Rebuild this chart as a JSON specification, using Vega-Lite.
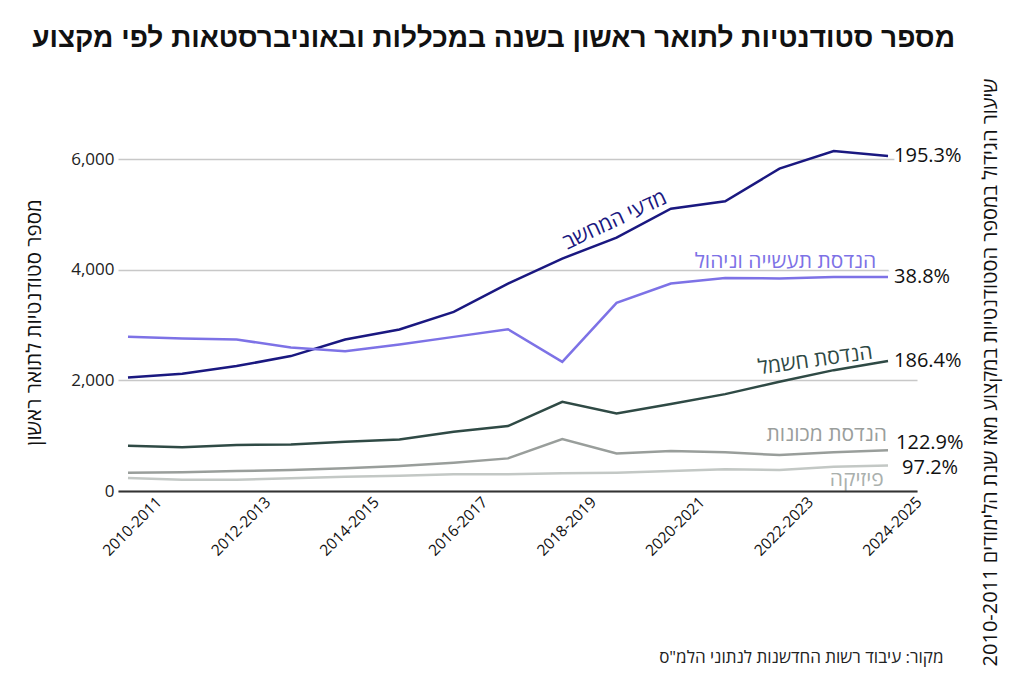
{
  "$schema": "https://vega.github.io/schema/vega-lite/v6.json",
  "width": 799,
  "height": 387,
  "autosize": {"type": "none"},
  "padding": {"left": 118, "top": 104, "right": 107, "bottom": 192},
  "background": "white",
  "config": {"view": {"stroke": null}, "font": "Open Sans"},
  "title": {
    "text": "מספר סטודנטיות לתואר ראשון בשנה במכללות ובאוניברסטאות לפי מקצוע",
    "anchor": "end",
    "frame": "group",
    "font": "Liberation Sans",
    "fontSize": 28,
    "fontWeight": "bold",
    "color": "#111111",
    "dx": 38,
    "offset": 25
  },
  "data": {
    "values": [
      {"series": "מדעי המחשב", "year": 2010, "value": 2052},
      {"series": "מדעי המחשב", "year": 2011, "value": 2120},
      {"series": "מדעי המחשב", "year": 2012, "value": 2260},
      {"series": "מדעי המחשב", "year": 2013, "value": 2440},
      {"series": "מדעי המחשב", "year": 2014, "value": 2740},
      {"series": "מדעי המחשב", "year": 2015, "value": 2921},
      {"series": "מדעי המחשב", "year": 2016, "value": 3240},
      {"series": "מדעי המחשב", "year": 2017, "value": 3752},
      {"series": "מדעי המחשב", "year": 2018, "value": 4204},
      {"series": "מדעי המחשב", "year": 2019, "value": 4583},
      {"series": "מדעי המחשב", "year": 2020, "value": 5107},
      {"series": "מדעי המחשב", "year": 2021, "value": 5240},
      {"series": "מדעי המחשב", "year": 2022, "value": 5830},
      {"series": "מדעי המחשב", "year": 2023, "value": 6148},
      {"series": "מדעי המחשב", "year": 2024, "value": 6060, "pct": "195.3%"},
      {"series": "הנדסת תעשייה וניהול", "year": 2010, "value": 2790},
      {"series": "הנדסת תעשייה וניהול", "year": 2011, "value": 2760},
      {"series": "הנדסת תעשייה וניהול", "year": 2012, "value": 2740},
      {"series": "הנדסת תעשייה וניהול", "year": 2013, "value": 2596},
      {"series": "הנדסת תעשייה וניהול", "year": 2014, "value": 2529},
      {"series": "הנדסת תעשייה וניהול", "year": 2015, "value": 2650},
      {"series": "הנדסת תעשייה וניהול", "year": 2016, "value": 2788},
      {"series": "הנדסת תעשייה וניהול", "year": 2017, "value": 2927},
      {"series": "הנדסת תעשייה וניהול", "year": 2018, "value": 2337},
      {"series": "הנדסת תעשייה וניהול", "year": 2019, "value": 3402},
      {"series": "הנדסת תעשייה וניהול", "year": 2020, "value": 3752},
      {"series": "הנדסת תעשייה וניהול", "year": 2021, "value": 3854},
      {"series": "הנדסת תעשייה וניהול", "year": 2022, "value": 3843},
      {"series": "הנדסת תעשייה וניהול", "year": 2023, "value": 3872},
      {"series": "הנדסת תעשייה וניהול", "year": 2024, "value": 3872, "pct": "38.8%"},
      {"series": "הנדסת חשמל", "year": 2010, "value": 820},
      {"series": "הנדסת חשמל", "year": 2011, "value": 790},
      {"series": "הנדסת חשמל", "year": 2012, "value": 831},
      {"series": "הנדסת חשמל", "year": 2013, "value": 843},
      {"series": "הנדסת חשמל", "year": 2014, "value": 891},
      {"series": "הנדסת חשמל", "year": 2015, "value": 933},
      {"series": "הנדסת חשמל", "year": 2016, "value": 1072},
      {"series": "הנדסת חשמל", "year": 2017, "value": 1174},
      {"series": "הנדסת חשמל", "year": 2018, "value": 1614},
      {"series": "הנדסת חשמל", "year": 2019, "value": 1403},
      {"series": "הנדסת חשמל", "year": 2020, "value": 1572},
      {"series": "הנדסת חשמל", "year": 2021, "value": 1752},
      {"series": "הנדסת חשמל", "year": 2022, "value": 1975},
      {"series": "הנדסת חשמל", "year": 2023, "value": 2186},
      {"series": "הנדסת חשמל", "year": 2024, "value": 2350, "pct": "186.4%"},
      {"series": "הנדסת מכונות", "year": 2010, "value": 330},
      {"series": "הנדסת מכונות", "year": 2011, "value": 340},
      {"series": "הנדסת מכונות", "year": 2012, "value": 361},
      {"series": "הנדסת מכונות", "year": 2013, "value": 379},
      {"series": "הנדסת מכונות", "year": 2014, "value": 410},
      {"series": "הנדסת מכונות", "year": 2015, "value": 452},
      {"series": "הנדסת מכונות", "year": 2016, "value": 512},
      {"series": "הנדסת מכונות", "year": 2017, "value": 590},
      {"series": "הנדסת מכונות", "year": 2018, "value": 939},
      {"series": "הנדסת מכונות", "year": 2019, "value": 680},
      {"series": "הנדסת מכונות", "year": 2020, "value": 723},
      {"series": "הנדסת מכונות", "year": 2021, "value": 699},
      {"series": "הנדסת מכונות", "year": 2022, "value": 650},
      {"series": "הנדסת מכונות", "year": 2023, "value": 699},
      {"series": "הנדסת מכונות", "year": 2024, "value": 736, "pct": "122.9%"},
      {"series": "פיזיקה", "year": 2010, "value": 235},
      {"series": "פיזיקה", "year": 2011, "value": 205},
      {"series": "פיזיקה", "year": 2012, "value": 205},
      {"series": "פיזיקה", "year": 2013, "value": 229},
      {"series": "פיזיקה", "year": 2014, "value": 259},
      {"series": "פיזיקה", "year": 2015, "value": 277},
      {"series": "פיזיקה", "year": 2016, "value": 301},
      {"series": "פיזיקה", "year": 2017, "value": 301},
      {"series": "פיזיקה", "year": 2018, "value": 320},
      {"series": "פיזיקה", "year": 2019, "value": 331},
      {"series": "פיזיקה", "year": 2020, "value": 361},
      {"series": "פיזיקה", "year": 2021, "value": 392},
      {"series": "פיזיקה", "year": 2022, "value": 379},
      {"series": "פיזיקה", "year": 2023, "value": 440},
      {"series": "פיזיקה", "year": 2024, "value": 463, "pct": "97.2%"}
    ]
  },
  "encoding": {
    "x": {
      "field": "year",
      "type": "quantitative",
      "scale": {"domain": [2009.816, 2024.534], "nice": false, "zero": false},
      "axis": {
        "values": [2010, 2012, 2014, 2016, 2018, 2020, 2022, 2024],
        "labelExpr": "datum.value + '-' + (datum.value + 1)",
        "labelAngle": -45,
        "labelAlign": "center",
        "labelBaseline": "middle",
        "labelPadding": 35,
        "labelOffset": 4,
        "labelFontSize": 15.5,
        "labelColor": "#111111",
        "ticks": false,
        "grid": false,
        "domainColor": "#333333",
        "domainWidth": 2,
        "zindex": 1,
        "title": "מקור: עיבוד רשות החדשנות לנתוני הלמ\"ס",
        "titleFontSize": 17,
        "titleFontWeight": "normal",
        "titleColor": "#222222",
        "titleX": 825,
        "titleY": 166,
        "titleAlign": "right",
        "titleBaseline": "middle"
      }
    }
  },
  "layer": [
    {
      "mark": {"type": "line"},
      "encoding": {
        "y": {
          "field": "value",
          "type": "quantitative",
          "scale": {"domain": [0, 7000], "nice": false},
          "axis": {
            "values": [0, 2000, 4000, 6000],
            "format": ",.0f",
            "grid": true,
            "gridColor": "#c8c8c8",
            "gridWidth": 1.5,
            "ticks": false,
            "domain": false,
            "labelFontSize": 17,
            "labelColor": "#222222",
            "labelPadding": 4,
            "title": "מספר סטודנטיות לתואר ראשון",
            "titleFontSize": 20.5,
            "titleFontWeight": "normal",
            "titleColor": "#111111",
            "titleAngle": -90,
            "titleX": -84,
            "titleY": 218,
            "titleAlign": "center",
            "titleBaseline": "middle"
          }
        },
        "color": {
          "field": "series",
          "type": "nominal",
          "scale": {
            "domain": ["פיזיקה", "הנדסת מכונות", "הנדסת חשמל", "הנדסת תעשייה וניהול", "מדעי המחשב"],
            "range": ["#c3c8c5", "#999e9b", "#2f4a45", "#7d72e6", "#1a1880"]
          },
          "legend": null
        },
        "strokeWidth": {
          "field": "series",
          "type": "nominal",
          "scale": {
            "domain": ["פיזיקה", "הנדסת מכונות", "הנדסת חשמל", "הנדסת תעשייה וניהול", "מדעי המחשב"],
            "range": [2.5, 2.5, 2.5, 2.5, 3]
          },
          "legend": null
        }
      }
    },
    {
      "transform": [{"filter": "datum.pct && datum.value > 3000"}],
      "mark": {"type": "text", "align": "left", "baseline": "middle", "dx": 5, "fontSize": 20, "stroke": "white", "strokeWidth": 8, "color": "white"},
      "encoding": {
        "y": {"field": "value", "type": "quantitative", "axis": null},
        "text": {"field": "pct"}
      }
    },
    {
      "transform": [{"filter": "datum.pct && datum.value > 1000"}],
      "mark": {"type": "text", "align": "left", "baseline": "middle", "dx": 6, "fontSize": 20, "color": "#111111"},
      "encoding": {
        "y": {
          "field": "value",
          "type": "quantitative",
          "axis": {
            "orient": "right",
            "labels": false,
            "ticks": false,
            "domain": false,
            "grid": false,
            "title": "שיעור הגידול במספר הסטודנטיות במקצוע מאז שנת הלימודים 2010-2011",
            "titleFontSize": 20,
            "titleFontWeight": "normal",
            "titleColor": "#111111",
            "titleAngle": -90,
            "titleX": 73,
            "titleY": 268,
            "titleAlign": "center",
            "titleBaseline": "middle"
          }
        },
        "text": {"field": "pct"}
      }
    },
    {
      "transform": [{"filter": "datum.pct && datum.series === 'הנדסת מכונות'"}],
      "mark": {"type": "text", "align": "left", "baseline": "middle", "dx": 8, "dy": -7, "fontSize": 20, "color": "#111111"},
      "encoding": {
        "y": {"field": "value", "type": "quantitative", "axis": null},
        "text": {"field": "pct"}
      }
    },
    {
      "transform": [{"filter": "datum.pct && datum.series === 'פיזיקה'"}],
      "mark": {"type": "text", "align": "left", "baseline": "middle", "dx": 14, "dy": 3, "fontSize": 20, "color": "#111111"},
      "encoding": {
        "y": {"field": "value", "type": "quantitative", "axis": null},
        "text": {"field": "pct"}
      }
    },
    {
      "transform": [{"filter": "datum.series === 'מדעי המחשב' && datum.year === 2019"}],
      "mark": {"type": "text", "align": "center", "baseline": "middle", "angle": -25, "dx": 6, "dy": -16, "fontSize": 21, "color": "#1a1880"},
      "encoding": {
        "y": {"field": "value", "type": "quantitative", "axis": null},
        "text": {"field": "series"}
      }
    },
    {
      "transform": [{"filter": "datum.series === 'הנדסת תעשייה וניהול' && datum.year === 2022"}],
      "mark": {"type": "text", "align": "center", "baseline": "middle", "dx": 6, "dy": -17, "fontSize": 21, "color": "#7d72e6"},
      "encoding": {
        "y": {"field": "value", "type": "quantitative", "axis": null},
        "text": {"field": "series"}
      }
    },
    {
      "transform": [{"filter": "datum.series === 'הנדסת חשמל' && datum.year === 2023"}],
      "mark": {"type": "text", "align": "center", "baseline": "middle", "angle": -8, "dx": -17, "dy": -12, "fontSize": 21, "color": "#2f4a45"},
      "encoding": {
        "y": {"field": "value", "type": "quantitative", "axis": null},
        "text": {"field": "series"}
      }
    },
    {
      "transform": [{"filter": "datum.series === 'הנדסת מכונות' && datum.year === 2023"}],
      "mark": {"type": "text", "align": "center", "baseline": "middle", "dx": -7, "dy": -17, "fontSize": 21, "color": "#9a9e9c"},
      "encoding": {
        "y": {"field": "value", "type": "quantitative", "axis": null},
        "text": {"field": "series"}
      }
    },
    {
      "transform": [{"filter": "datum.series === 'פיזיקה' && datum.year === 2023"}],
      "mark": {"type": "text", "align": "center", "baseline": "middle", "dx": 23, "dy": 13, "fontSize": 21, "color": "#aab0ad"},
      "encoding": {
        "y": {"field": "value", "type": "quantitative", "axis": null},
        "text": {"field": "series"}
      }
    }
  ],
  "resolve": {"axis": {"y": "independent"}}
}
